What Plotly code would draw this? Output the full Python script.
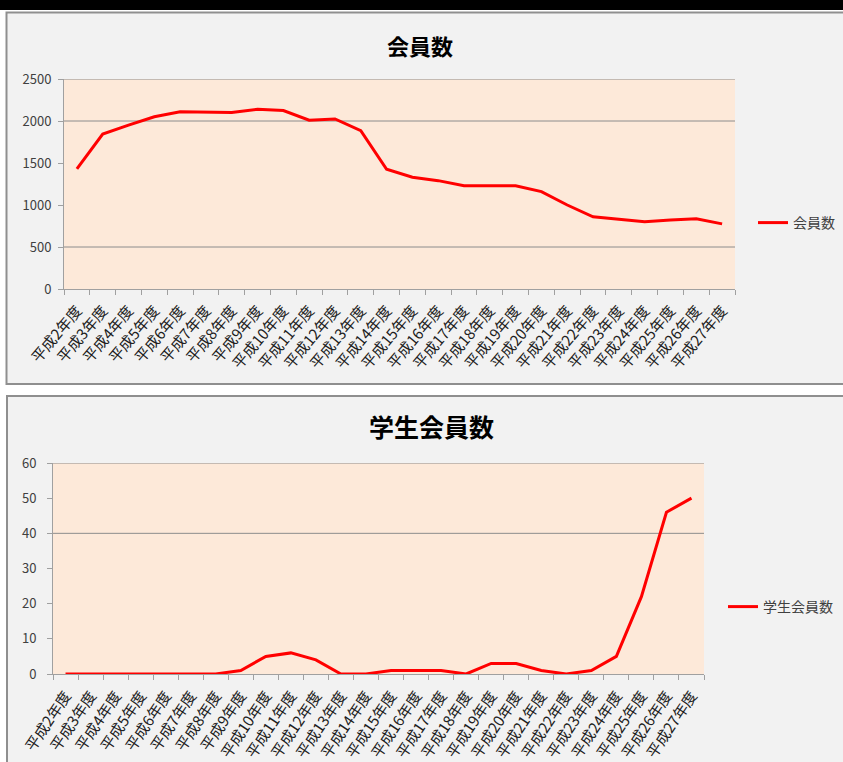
import plotly.graph_objects as go

W, H = 843, 762

years = [f"平成{n}年度" for n in range(2, 28)]

members = [1430, 1845, 1950, 2050, 2110, 2105, 2100, 2140, 2125, 2010,
           2025, 1885, 1425, 1330, 1290, 1230, 1230, 1230, 1160, 1000,
           860, 830, 800, 820, 835, 775]

students = [0, 0, 0, 0, 0, 0, 0, 1, 5, 6,
            4, 0, 0, 1, 1, 1, 0, 3, 3, 1,
            0, 1, 5, 22, 46, 50]

top_title = "会員数"
bottom_title = "学生会員数"
top_name = "会員数"
bottom_name = "学生会員数"

top_grid = [2500, 2000, 500]
bottom_grid = [60, 40]

FONT = "Noto Sans CJK JP"
LINE_RED = "#FF0000"
GRID = "#8c8c8c"
AXIS = "#a0a0a0"
TXT = "#404040"
PEACH = "#FDE9D9"


def px(x):
    return x / W


def py(y):
    return 1 - y / H


TOP_X = [64, 735]
TOP_Y = [289, 79]
BOT_X = [53, 704]
BOT_Y = [674, 463]

fig = go.Figure()

fig.add_trace(go.Scatter(
    x=years, y=members, mode="lines", name=top_name,
    line=dict(color=LINE_RED, width=3),
    xaxis="x", yaxis="y", legend="legend",
))
fig.add_trace(go.Scatter(
    x=years, y=students, mode="lines", name=bottom_name,
    line=dict(color=LINE_RED, width=3),
    xaxis="x2", yaxis="y2", legend="legend2",
))

shapes = [
    # black band at top
    dict(type="rect", xref="paper", yref="paper", x0=-0.01, x1=1.01,
         y0=py(10), y1=1.01, fillcolor="black", line=dict(width=0), layer="below"),
    # top chart frame
    dict(type="rect", xref="paper", yref="paper", x0=px(6.5), x1=px(860),
         y0=py(384), y1=py(12.5), fillcolor="#f2f2f2",
         line=dict(color="#8f8f8f", width=2), layer="below"),
    # bottom chart frame
    dict(type="rect", xref="paper", yref="paper", x0=px(7), x1=px(860),
         y0=py(780), y1=py(396), fillcolor="#f2f2f2",
         line=dict(color="#8f8f8f", width=2), layer="below"),
    # plot areas
    dict(type="rect", xref="paper", yref="paper", x0=px(TOP_X[0]), x1=px(TOP_X[1]),
         y0=py(TOP_Y[0]), y1=py(TOP_Y[1]), fillcolor=PEACH,
         line=dict(width=0), layer="below"),
    dict(type="rect", xref="paper", yref="paper", x0=px(BOT_X[0]), x1=px(BOT_X[1]),
         y0=py(BOT_Y[0]), y1=py(BOT_Y[1]), fillcolor=PEACH,
         line=dict(width=0), layer="below"),
]
for g in top_grid:
    shapes.append(dict(type="line", xref="x domain", yref="y", x0=0, x1=1,
                       y0=g, y1=g, line=dict(color=GRID, width=1), layer="below"))
for g in bottom_grid:
    shapes.append(dict(type="line", xref="x2 domain", yref="y2", x0=0, x1=1,
                       y0=g, y1=g, line=dict(color=GRID, width=1), layer="below"))

xaxis_common = dict(
    type="category", tickson="boundaries", ticks="outside", ticklen=5,
    tickcolor=AXIS, showline=True, linecolor=AXIS, linewidth=1,
    showgrid=False, zeroline=False, fixedrange=True,
    range=[-0.5, len(years) - 0.5],
    tickfont=dict(family=FONT, size=15, color="#202020"),
)
yaxis_common = dict(
    ticks="outside", ticklen=5, tickcolor=AXIS, showline=True, linecolor=AXIS,
    linewidth=1, showgrid=False, zeroline=False, fixedrange=True,
    tickfont=dict(family=FONT, size=13, color=TXT),
)

fig.update_layout(
    width=W, height=H,
    margin=dict(l=0, r=0, t=0, b=0, autoexpand=False),
    paper_bgcolor="white",
    plot_bgcolor="rgba(0,0,0,0)",
    font=dict(family=FONT, color=TXT),
    showlegend=True,
    shapes=shapes,
    xaxis=dict(xaxis_common, domain=[px(TOP_X[0]), px(TOP_X[1])], anchor="y",
               tickangle=-50, ticklabelstandoff=6),
    yaxis=dict(yaxis_common, domain=[py(TOP_Y[0]), py(TOP_Y[1])], anchor="x",
               range=[0, 2500], tickvals=[0, 500, 1000, 1500, 2000, 2500],
               ticklabelstandoff=4),
    xaxis2=dict(xaxis_common, domain=[px(BOT_X[0]), px(BOT_X[1])], anchor="y2",
                tickangle=-56, ticklabelstandoff=6),
    yaxis2=dict(yaxis_common, domain=[py(BOT_Y[0]), py(BOT_Y[1])], anchor="x2",
                range=[0, 60], tickvals=[0, 10, 20, 30, 40, 50, 60],
                ticklabelstandoff=8),
    legend=dict(x=px(753), y=py(223), xanchor="left", yanchor="middle",
                bgcolor="rgba(0,0,0,0)", font=dict(family=FONT, size=14, color=TXT),
                itemwidth=30),
    legend2=dict(x=px(723), y=py(607), xanchor="left", yanchor="middle",
                 bgcolor="rgba(0,0,0,0)", font=dict(family=FONT, size=14, color=TXT),
                 itemwidth=30),
    annotations=[
        dict(text=f"<b>{top_title}</b>", x=px(420), y=py(45), xref="paper",
             yref="paper", showarrow=False, xanchor="center", yanchor="middle",
             font=dict(family=FONT, size=22, color="black")),
        dict(text=f"<b>{bottom_title}</b>", x=px(431), y=py(426), xref="paper",
             yref="paper", showarrow=False, xanchor="center", yanchor="middle",
             font=dict(family=FONT, size=25, color="black")),
    ],
)

fig.write_html(
    "out.html",
    config={"displayModeBar": False},
    post_script="document.body.style.margin='0';document.body.style.overflow='hidden';",
)
